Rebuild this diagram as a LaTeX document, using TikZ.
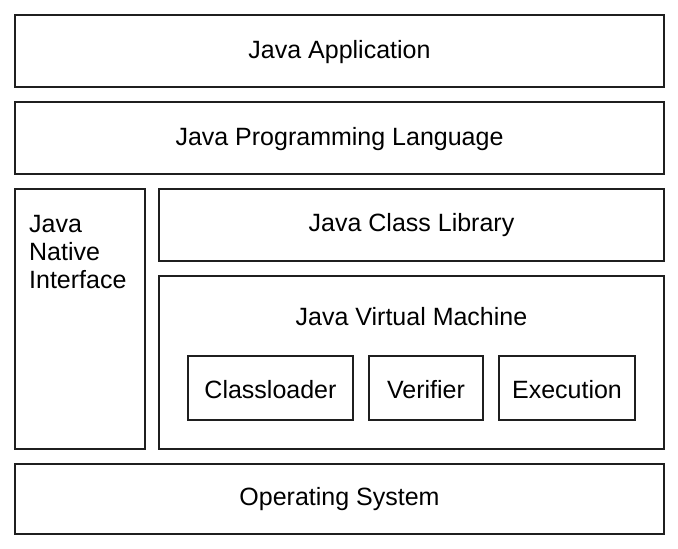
\documentclass[tikz,border=0pt]{standalone}
\usepackage{fontspec}
\setmainfont{Liberation Sans}
\begin{document}
\begin{tikzpicture}[x=1pt,y=-1pt,
  box/.style={draw=black!88,line width=2pt,inner sep=0pt,outer sep=0pt},
  lbl/.style={inner sep=0pt,anchor=base,font=\fontsize{25}{28}\selectfont}]
\useasboundingbox (0,0) rectangle (678,549);
% boxes
\node[box,minimum width=649,minimum height=72] (app) at (339.5,51) {};
\node[box,minimum width=649,minimum height=72] (lang) at (339.5,138) {};
\node[box,minimum width=130,minimum height=260] (jni) at (80,319) {};
\node[box,minimum width=505,minimum height=72] (lib) at (411.5,225) {};
\node[box,minimum width=505,minimum height=173] (jvm) at (411.5,362.5) {};
\node[box,minimum width=165,minimum height=64] (cl) at (270.5,388) {};
\node[box,minimum width=114,minimum height=64] (ver) at (426,388) {};
\node[box,minimum width=136,minimum height=64] (exe) at (567,388) {};
\node[box,minimum width=649,minimum height=70] (os) at (339.5,499) {};
% labels
\node[lbl] (tapp) at (339.5,58.5) {Java Application};
\node[lbl] (tlang) at (339.5,145) {Java Programming Language};
\node[lbl] (tlib) at (411.5,231.5) {Java Class Library};
\node[lbl] (tjvm) at (411.5,325) {Java Virtual Machine};
\node[lbl] (tcl) at (270.5,398) {Classloader};
\node[lbl] (tver) at (426,398) {Verifier};
\node[lbl] (texe) at (567,398) {Execution};
\node[lbl] (tos) at (339.5,505) {Operating System};
\node[lbl,anchor=base west] (tj1) at (29,232) {Java};
\node[lbl,anchor=base west] (tj2) at (29,260) {Native};
\node[lbl,anchor=base west] (tj3) at (29,288) {Interface};
\end{tikzpicture}
\end{document}
